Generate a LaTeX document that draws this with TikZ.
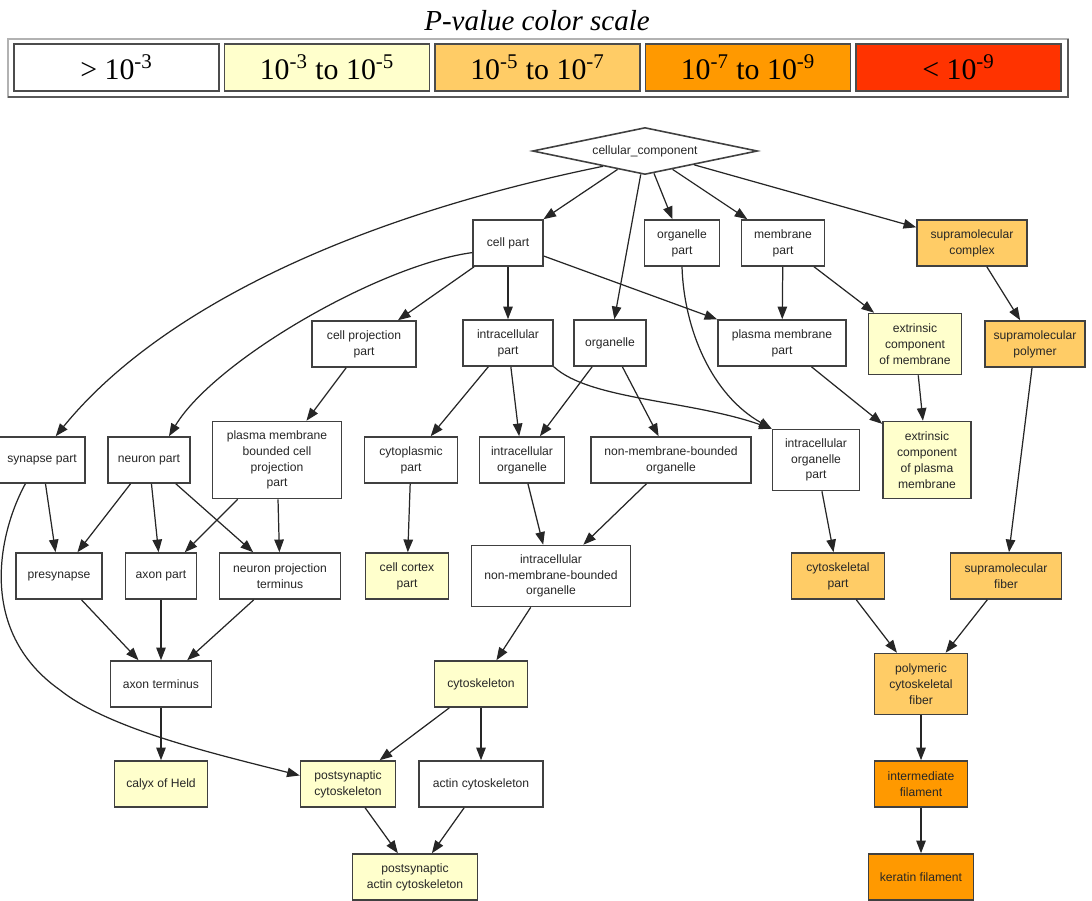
\documentclass[tikz,border=0pt]{standalone}
\usepackage{fontspec}
\setmainfont{Liberation Serif}
\setsansfont{Liberation Sans}
\usetikzlibrary{arrows.meta,shapes.geometric}

\definecolor{pnone}{RGB}{255,255,255}
\definecolor{plow}{RGB}{255,255,204}
\definecolor{pmid}{RGB}{255,204,102}
\definecolor{phigh}{RGB}{255,153,0}
\definecolor{ptop}{RGB}{255,51,0}

\tikzset{
  term/.style={draw=black!75, line width=0.9pt, rectangle, inner sep=1pt, align=center,
    text=black!85, font=\sffamily\fontsize{6.9}{9}\selectfont, fill=pnone},
  sz/.style 2 args={minimum width=#1*0.02cm, minimum height=#2*0.02cm},
  isa/.style={draw=black!85, line width=0.7pt, -{Triangle[length=7.2pt,width=5.4pt]}},
}

\begin{document}
\begin{tikzpicture}[x=0.02cm,y=-0.02cm]
\useasboundingbox (0,0) rectangle (1092,900);
% colour legend
\node[font=\itshape\fontsize{16.5}{18}\selectfont] (legtitle) at (537,21) {P-value color scale};
\draw[gray!60,line width=1.1pt] (8,39) rectangle (1068,97);
\draw[black!65,line width=1.1pt] (8,97) -- (1068,97) -- (1068,39);
\foreach \i/\col/\txt in {0/pnone/{> 10\textsuperscript{-3}},
                          1/plow/{10\textsuperscript{-3} to 10\textsuperscript{-5}},
                          2/pmid/{10\textsuperscript{-5} to 10\textsuperscript{-7}},
                          3/phigh/{10\textsuperscript{-7} to 10\textsuperscript{-9}},
                          4/ptop/{< 10\textsuperscript{-9}}}
  \node[draw=black!70, line width=0.9pt, fill=\col, minimum width=205*0.02cm, minimum height=47*0.02cm,
        inner sep=0, font=\fontsize{17}{18}\selectfont] (leg\i) at (116.5+210.5*\i,67.5) {\txt};

% GO terms
\node[term, diamond, aspect=4.7, inner sep=0, sz={225}{47}] (cc) at (645,151) {cellular\_component};

\node[term, sz={70}{46}] (cellpart) at (508,243) {cell part};
\node[term, sz={75}{46}] (orgpart) at (682,243) {organelle\\part};
\node[term, sz={83}{46}] (mempart) at (783,243) {membrane\\part};
\node[term, fill=pmid, sz={110}{46}] (supcomplex) at (972,243) {supramolecular\\complex};

\node[term, sz={104}{46}] (cellprojpart) at (364,344) {cell projection\\part};
\node[term, sz={90}{46}] (intrapart) at (508,343) {intracellular\\part};
\node[term, sz={72}{46}] (organelle) at (610,343) {organelle};
\node[term, sz={128}{46}] (pmpart) at (782,343) {plasma membrane\\part};
\node[term, fill=plow, sz={93}{61}] (extmem) at (915,344) {extrinsic\\component\\of membrane};
\node[term, fill=pmid, sz={100}{46}] (suppolymer) at (1035,344) {supramolecular\\polymer};

\node[term, sz={86}{46}] (synapse) at (42,460) {synapse part};
\node[term, sz={82}{46}] (neuronpart) at (149,460) {neuron part};
\node[term, sz={129}{77}] (pmbcpp) at (277,460) {plasma membrane\\bounded cell\\projection\\part};
\node[term, sz={93}{46}] (cytoplasmic) at (411,460) {cytoplasmic\\part};
\node[term, sz={85}{46}] (intraorg) at (522,460) {intracellular\\organelle};
\node[term, sz={160}{46}] (nmbo) at (671,460) {non-membrane-bounded\\organelle};
\node[term, sz={87}{61}] (iop) at (816,460) {intracellular\\organelle\\part};
\node[term, fill=plow, sz={88}{77}] (extpm) at (927,460) {extrinsic\\component\\of plasma\\membrane};

\node[term, sz={86}{46}] (presynapse) at (59,576) {presynapse};
\node[term, sz={71}{46}] (axonpart) at (161,576) {axon part};
\node[term, sz={121}{46}] (nptermin) at (280,576) {neuron projection\\terminus};
\node[term, fill=plow, sz={83}{46}] (cortex) at (407,576) {cell cortex\\part};
\node[term, sz={159}{61}] (inmbo) at (551,576) {intracellular\\non-membrane-bounded\\organelle};
\node[term, fill=pmid, sz={93}{46}] (cytopart) at (838,576) {cytoskeletal\\part};
\node[term, fill=pmid, sz={111}{46}] (supfiber) at (1006,576) {supramolecular\\fiber};

\node[term, sz={101}{46}] (axonterm) at (161,684) {axon terminus};
\node[term, fill=plow, sz={93}{46}] (cytoskel) at (481,684) {cytoskeleton};
\node[term, fill=pmid, sz={93}{61}] (polyfiber) at (921,684) {polymeric\\cytoskeletal\\fiber};

\node[term, fill=plow, sz={93}{46}] (calyx) at (161,784) {calyx of Held};
\node[term, fill=plow, sz={95}{46}] (postcyto) at (348,784) {postsynaptic\\cytoskeleton};
\node[term, sz={124}{46}] (actin) at (481,784) {actin cytoskeleton};
\node[term, fill=phigh, sz={93}{46}] (interfil) at (921,784) {intermediate\\filament};

\node[term, fill=plow, sz={125}{46}] (postactin) at (415,877) {postsynaptic\\actin cytoskeleton};
\node[term, fill=phigh, sz={105}{46}] (keratin) at (921,877) {keratin filament};

% is_a edges
\foreach \a/\b in {cc/cellpart, cc/organelle, cc/orgpart, cc/mempart, cc/supcomplex,
                   cellpart/cellprojpart, cellpart/intrapart, cellpart/pmpart,
                   mempart/pmpart, mempart/extmem, supcomplex/suppolymer,
                   cellprojpart/pmbcpp, intrapart/cytoplasmic, intrapart/intraorg,
                   organelle/intraorg, organelle/nmbo, pmpart/extpm, extmem/extpm,
                   suppolymer/supfiber, synapse/presynapse, neuronpart/presynapse,
                   neuronpart/axonpart, neuronpart/nptermin, pmbcpp/axonpart, pmbcpp/nptermin,
                   cytoplasmic/cortex, intraorg/inmbo, nmbo/inmbo, iop/cytopart,
                   presynapse/axonterm, axonpart/axonterm, nptermin/axonterm,
                   inmbo/cytoskel, cytopart/polyfiber, supfiber/polyfiber, axonterm/calyx,
                   cytoskel/postcyto, cytoskel/actin, polyfiber/interfil,
                   postcyto/postactin, actin/postactin, interfil/keratin}
  \draw[isa] (\a) -- (\b);

% curved edges
\draw[isa] (cc.200) .. controls (330,222) and (150,320) .. (synapse.60);
\draw[isa] (cellpart.195) .. controls (380,265) and (215,360) .. (neuronpart.50);
\draw[isa] (orgpart.south) .. controls (684,330) and (712,395) .. (iop.north west);
\draw[isa] (intrapart.south east) .. controls (590,400) and (690,400) .. (iop.north west);
\draw[isa] (synapse.235) .. controls (0,530) and (-25,630) .. (60,690)
           .. controls (110,730) and (220,755) .. (postcyto.170);
\end{tikzpicture}
\end{document}
